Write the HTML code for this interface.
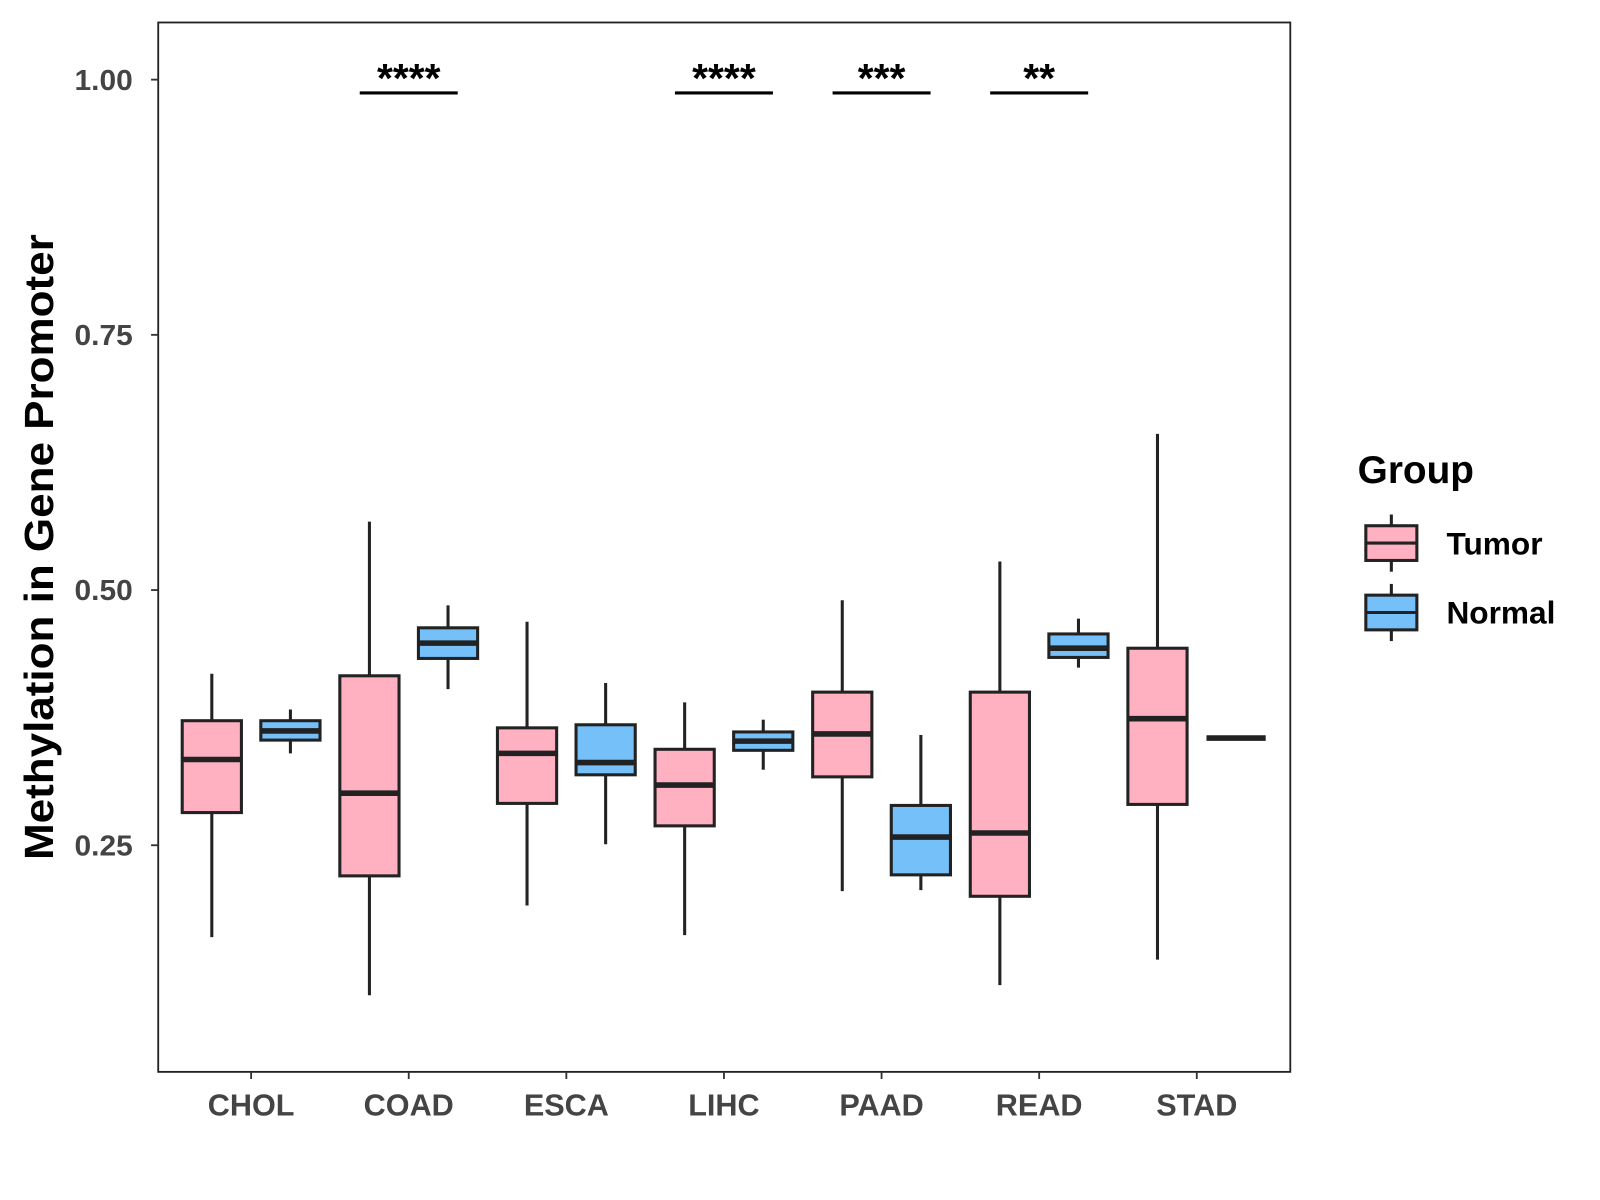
<!DOCTYPE html>
<html><head><meta charset="utf-8"><style>html,body{margin:0;padding:0;background:#fff}svg{display:block}text{font-family:"Liberation Sans",Arial,sans-serif;font-weight:bold}</style></head>
<body>
<svg id="chart" width="1600" height="1200" viewBox="0 0 1567.4 1175.5" xmlns="http://www.w3.org/2000/svg">
<rect x="0" y="0" width="1567.4" height="1175.5" fill="#fff"/>
<g id="plot"></g>
</svg>
<script>
const categories=["CHOL","COAD","ESCA","LIHC","PAAD","READ","STAD"];
const tumorStats=[[0.160,0.282,0.334,0.372,0.418],[0.103,0.220,0.301,0.416,0.567],[0.191,0.291,0.340,0.365,0.469],[0.162,0.269,0.309,0.344,0.390],[0.205,0.317,0.359,0.400,0.490],[0.113,0.200,0.262,0.400,0.528],[0.138,0.290,0.374,0.443,0.653]];
const normalStats=[[0.340,0.353,0.362,0.372,0.383],[0.403,0.433,0.448,0.463,0.485],[0.251,0.319,0.331,0.368,0.409],[0.324,0.343,0.352,0.361,0.373],[0.206,0.221,0.258,0.289,0.358],[0.424,0.434,0.443,0.457,0.472],[0.355,0.355,0.355,0.355,0.355]];
const yTicks=[0.25,0.50,0.75,1.00];
const sigLabels=["","****","","****","***","**",""];
const ns="http://www.w3.org/2000/svg";
const g=document.getElementById('plot');
const L=155,R=1264,T=22,B=1050;
const y=v=>1078-1000*v;
const x=i=>246+i*154.4;
function el(t,a,txt){const e=document.createElementNS(ns,t);for(const k in a)e.setAttribute(k,a[k]);if(txt!==undefined)e.textContent=txt;g.appendChild(e);return e;}
let f=el('rect',{x:L,y:T,width:R-L,height:B-T,fill:'none',stroke:'#222','stroke-width':1.8});


yTicks.forEach(v=>{
 let t=el('line',{x1:L-7,x2:L,y1:y(v),y2:y(v),stroke:'#333','stroke-width':1.8});
 
 
 let l=el('text',{x:L-25,y:y(v)+10,'text-anchor':'end','font-size':28,fill:'#444',textLength:57,lengthAdjust:'spacingAndGlyphs'},v.toFixed(2));
 
 
});
categories.forEach((c,i)=>{
 let t=el('line',{x1:x(i),x2:x(i),y1:B,y2:B+7,stroke:'#333','stroke-width':1.8});
 
 
 let l=el('text',{x:x(i),y:B+43,'text-anchor':'middle','font-size':30,fill:'#444'},c);
 
 
 [[tumorStats[i],-38.5,'#FFB0C1'],[normalStats[i],38.5,'#75C0F8']].forEach(([s,off,col])=>{
  const cx=x(i)+off,w=58;
  let wl=el('line',{x1:cx,x2:cx,y1:y(s[0]),y2:y(s[4]),stroke:'#222','stroke-width':3});
  
  
  let b=el('rect',{x:cx-w/2,y:y(s[3]),width:w,height:Math.max(y(s[1])-y(s[3]),0),fill:col,stroke:'#222','stroke-width':3});
  
  
  let m=el('line',{x1:cx-w/2,x2:cx+w/2,y1:y(s[2]),y2:y(s[2]),stroke:'#222','stroke-width':5.5});
  
  
 });
 if(sigLabels[i]){
  let s=el('line',{x1:x(i)-48,x2:x(i)+48,y1:91,y2:91,stroke:'#000','stroke-width':3});
  
  
  let st=el('text',{x:x(i),y:90,'text-anchor':'middle','font-size':40,fill:'#000'},sigLabels[i]);
  
  
 }
});
let yt=el('text',{x:0,y:0,transform:'translate(52,536) rotate(-90)','text-anchor':'middle','font-size':40,fill:'#000',textLength:613,lengthAdjust:'spacingAndGlyphs'},'Methylation in Gene Promoter');


let lt=el('text',{x:1330,y:473,'font-size':38,fill:'#000'},'Group');


[['Tumor','#FFB0C1',532],['Normal','#75C0F8',600]].forEach(([n,col,cy])=>{
 let w=el('line',{x1:1363,x2:1363,y1:cy-28,y2:cy+28,stroke:'#222','stroke-width':3});
 
 
 let r=el('rect',{x:1338,y:cy-17,width:50,height:34,fill:col,stroke:'#222','stroke-width':3});
 
 
 let m=el('line',{x1:1338,x2:1388,y1:cy,y2:cy,stroke:'#222','stroke-width':3});
 
 
 let t=el('text',{x:1417,y:cy+11,'font-size':31,fill:'#000'},n);
 
 
});
</script>
</body></html>
